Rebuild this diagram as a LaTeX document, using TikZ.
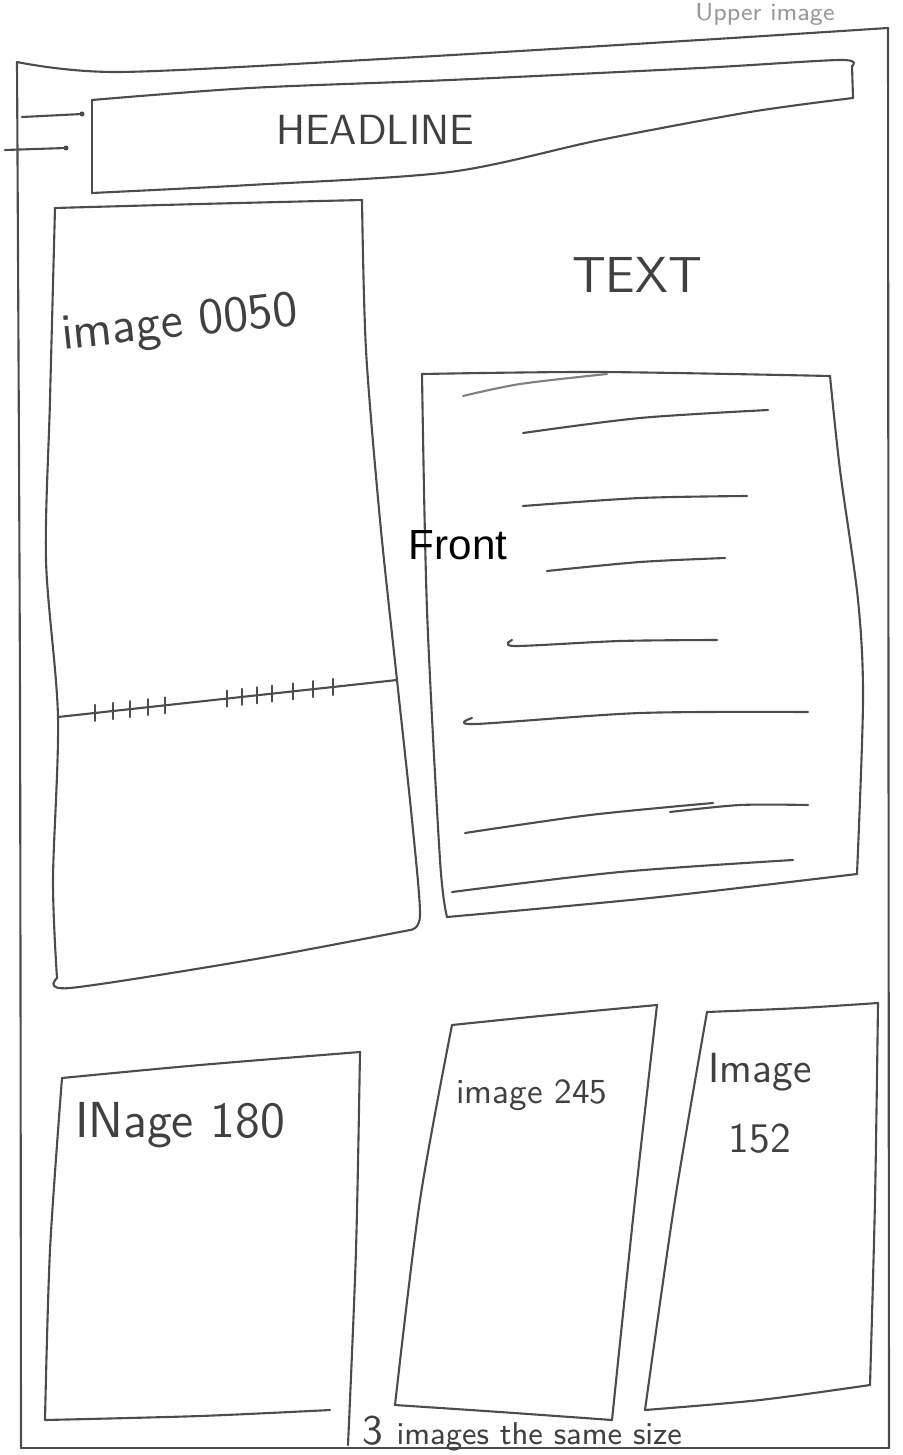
\documentclass[tikz,border=0pt]{standalone}
\usepackage{fontspec}
\newfontfamily\frontfont{Liberation Sans}
\usetikzlibrary{positioning}
\tikzset{
  pen/.style={line width=0.6pt, draw=black!70, line cap=round, line join=round},
  scrawl/.style={font=\sffamily, text=black!75, inner sep=1pt},
}

\begin{document}
\begin{tikzpicture}[x=0.01cm, y=-0.01cm]
  \useasboundingbox (0,0) rectangle (902,1455);

  % Page frame
  \draw[pen] plot[smooth] coordinates {(17,62) (120,72) (400,58) (700,40) (888,28)};
  \draw[pen] (888,28) -- (889,1448);
  \draw[pen] plot[smooth] coordinates {(17,62) (20,700) (21,1448)};
  \draw[pen] (21,1448) -- (889,1448);
  \node[scrawl, font=\sffamily\scriptsize, text=black!40] (upper) at (765,14) {Upper image};

  % Headline bar
  \draw[pen] plot[smooth] coordinates {(92,100) (250,88) (450,80) (700,68) (840,60) (852,66)};
  \draw[pen] (852,66) -- (853,98);
  \draw[pen] plot[smooth] coordinates {(853,98) (750,112) (600,140) (450,172) (250,185) (92,193)};
  \draw[pen] (92,193) -- (92,100);
  \draw[pen] (22,117) -- (82,114);
  \draw[pen] (5,150) -- (66,148);
  \fill[black!70] (82,114) circle (2.5) (66,148) circle (2.5);
  \node[scrawl, font=\sffamily\large] (headline) at (375,130) {HEADLINE};

  % Big image
  \draw[pen] plot[smooth] coordinates {(55,208) (200,204) (362,200)};
  \draw[pen] plot[smooth] coordinates {(362,200) (366,350) (380,520) (397,680) (412,820) (420,915) (410,930)};
  \draw[pen] plot[smooth] coordinates {(410,930) (250,960) (70,988) (57,978)};
  \draw[pen] plot[smooth] coordinates {(57,978) (53,880) (58,717) (46,560) (50,400) (55,208)};
  \node[scrawl, font=\sffamily\Large, rotate=6] (img0050) at (180,325) {image 0050};
  \draw[pen] (58,717) -- (397,680);
  \foreach \tx in {95,113,130,148,165,227,242,257,272,293,313,333} {
    \pgfmathsetmacro{\ty}{717-(\tx-58)*37/339}
    \draw[pen] (\tx,\ty-8) -- (\tx,\ty+8);
  }

  % Text column
  \node[scrawl, font=\sffamily\Large] (textlbl) at (637,275) {TEXT};
  \draw[pen] plot[smooth] coordinates {(422,374) (600,372) (830,376)};
  \draw[pen] plot[smooth] coordinates {(830,376) (840,470) (858,600) (863,700) (857,874)};
  \draw[pen] plot[smooth] coordinates {(857,874) (650,898) (447,917)};
  \draw[pen] plot[smooth] coordinates {(447,917) (440,860) (427,610) (422,374)};
  \draw[pen, draw=black!50] plot[smooth] coordinates {(463,396) (520,384) (607,374)};
  \draw[pen] plot[smooth] coordinates {(523,433) (640,418) (768,410)};
  \draw[pen] plot[smooth] coordinates {(523,506) (640,498) (747,496)};
  \draw[pen] plot[smooth] coordinates {(547,571) (640,562) (725,558)};
  \draw[pen] plot[smooth] coordinates {(512,640) (515,646) (620,641) (717,640)};
  \draw[pen] plot[smooth] coordinates {(472,718) (475,724) (640,713) (808,712)};
  \draw[pen] plot[smooth] coordinates {(465,833) (590,815) (713,803)};
  \draw[pen] plot[smooth] coordinates {(670,812) (740,805) (808,805)};
  \draw[pen] plot[smooth] coordinates {(452,892) (620,872) (793,860)};
  \node[font=\frontfont\fontsize{12}{14}\selectfont, inner sep=0pt] (front) at (458,545) {Front};

  % Three small images
  \draw[pen] plot[smooth] coordinates {(62,1078) (200,1065) (360,1052)};
  \draw[pen] plot[smooth] coordinates {(360,1052) (356,1250) (348,1445)};
  \draw[pen] plot[smooth] coordinates {(45,1420) (200,1416) (330,1410)};
  \draw[pen] plot[smooth] coordinates {(62,1078) (50,1250) (45,1420)};
  \node[scrawl, font=\sffamily\Large] (img180) at (180,1125) {INage 180};

  \draw[pen] plot[smooth] coordinates {(452,1025) (550,1015) (657,1005)};
  \draw[pen] plot[smooth] coordinates {(657,1005) (635,1200) (612,1420)};
  \draw[pen] plot[smooth] coordinates {(612,1420) (500,1412) (395,1405)};
  \draw[pen] plot[smooth] coordinates {(452,1025) (420,1200) (395,1405)};
  \node[scrawl, font=\sffamily\normalsize] (img245) at (532,1095) {image 245};

  \draw[pen] plot[smooth] coordinates {(707,1012) (800,1008) (878,1003)};
  \draw[pen] plot[smooth] coordinates {(878,1003) (875,1200) (870,1385)};
  \draw[pen] plot[smooth] coordinates {(870,1385) (760,1400) (645,1410)};
  \draw[pen] plot[smooth] coordinates {(707,1012) (675,1200) (645,1410)};
  \node[scrawl, font=\sffamily\large] (img152a) at (760,1072) {Image};
  \node[scrawl, font=\sffamily\large] (img152b) [below=0.25cm of img152a] {152};

  % Note
  \node[scrawl, font=\sffamily\small] (note) at (522,1433) {\large 3 \small images the same size};
\end{tikzpicture}
\end{document}
